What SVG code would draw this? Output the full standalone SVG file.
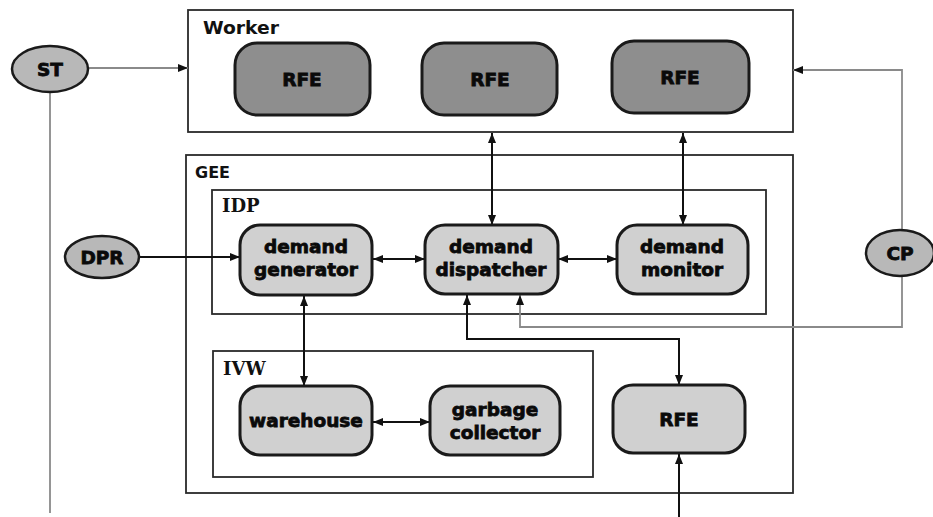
<svg xmlns="http://www.w3.org/2000/svg" width="933" height="517" viewBox="0 0 933 517">
  <style>
    .frame { fill: #ffffff; stroke: #2a2a2a; stroke-width: 1.8; }
    .frame-label { font-family: "DejaVu Sans", "Liberation Sans", sans-serif; font-weight: bold; font-size: 16px; fill: #111; }
    .sub-label { font-family: "DejaVu Serif", "Liberation Serif", serif; font-weight: bold; font-size: 18px; fill: #111; }
    .node-dark { fill: #8e8e8e; stroke: #1a1a1a; stroke-width: 3; }
    .node-light { fill: #d0d0d0; stroke: #1a1a1a; stroke-width: 3; }
    .oval { fill: #b8b8b8; stroke: #1a1a1a; stroke-width: 2.5; }
    .txt { font-family: "DejaVu Sans", "Liberation Sans", sans-serif; font-weight: bold; font-size: 18.5px; fill: #0a0a0a; text-anchor: middle; stroke: #0a0a0a; stroke-width: 0.8; }
    .link { fill: none; stroke: #111; stroke-width: 2; }
    .link-grey { fill: none; stroke: #8a8a8a; stroke-width: 1.8; }
  </style>
  <defs>
    <marker id="arrow" viewBox="0 0 10 8" refX="10" refY="4" markerWidth="10" markerHeight="8" markerUnits="userSpaceOnUse" orient="auto-start-reverse">
      <path d="M0,0 L10,4 L0,8 Z" fill="#111"/>
    </marker>
  </defs>

  <!-- containers -->
  <g id="worker">
    <rect class="frame" x="188" y="10" width="605" height="122"/>
    <text class="frame-label" x="203" y="34" style="font-size:17px" textLength="76" lengthAdjust="spacingAndGlyphs">Worker</text>
  </g>
  <g id="gee">
    <rect class="frame" x="186" y="155" width="607" height="338"/>
    <text class="frame-label" x="195" y="178">GEE</text>
  </g>
  <g id="idp">
    <rect class="frame" x="212" y="190" width="554" height="124"/>
    <text class="sub-label" x="222" y="212">IDP</text>
  </g>
  <g id="ivw">
    <rect class="frame" x="213" y="351" width="380" height="126"/>
    <text class="sub-label" x="223" y="375">IVW</text>
  </g>

  <!-- connectors -->
  <g id="connectors">
    <!-- ST -->
    <line class="link-grey" x1="88" y1="68" x2="188" y2="68" marker-end="url(#arrow)"/>
    <line class="link-grey" x1="50" y1="91" x2="50" y2="513"/>
    <!-- CP -->
    <polyline class="link-grey" points="902,230 902,70 793,70" marker-end="url(#arrow)"/>
    <polyline class="link-grey" points="902,276 902,327 520,327 520,295" marker-end="url(#arrow)"/>
    <!-- DPR -->
    <line class="link" x1="140" y1="257" x2="240" y2="257" marker-end="url(#arrow)"/>
    <!-- IDP row -->
    <line class="link" x1="373" y1="259" x2="425" y2="259" marker-start="url(#arrow)" marker-end="url(#arrow)"/>
    <line class="link" x1="558" y1="259" x2="617" y2="259" marker-start="url(#arrow)" marker-end="url(#arrow)"/>
    <!-- Worker RFEs to IDP -->
    <line class="link" x1="492" y1="133" x2="492" y2="225" marker-start="url(#arrow)" marker-end="url(#arrow)"/>
    <line class="link" x1="683" y1="133" x2="683" y2="225" marker-start="url(#arrow)" marker-end="url(#arrow)"/>
    <!-- dispatcher to local RFE -->
    <polyline class="link" points="467,295 467,339 679,339 679,385" marker-start="url(#arrow)" marker-end="url(#arrow)"/>
    <!-- generator to warehouse -->
    <line class="link" x1="304" y1="296" x2="304" y2="386" marker-start="url(#arrow)" marker-end="url(#arrow)"/>
    <!-- warehouse to garbage collector -->
    <line class="link" x1="373" y1="422" x2="430" y2="422" marker-start="url(#arrow)" marker-end="url(#arrow)"/>
    <!-- incoming to local RFE -->
    <line class="link" x1="679" y1="517" x2="679" y2="454" marker-end="url(#arrow)"/>
  </g>

  <!-- outside actors -->
  <g id="st">
    <ellipse class="oval" cx="50" cy="69" rx="38" ry="23"/>
    <text class="txt" x="50" y="76">ST</text>
  </g>
  <g id="dpr">
    <ellipse class="oval" cx="102" cy="257" rx="37" ry="21"/>
    <text class="txt" x="102" y="264">DPR</text>
  </g>
  <g id="cp">
    <ellipse class="oval" cx="900" cy="253" rx="34" ry="23"/>
    <text class="txt" x="900" y="260">CP</text>
  </g>

  <!-- Worker RFEs -->
  <g id="rfe-w1">
    <rect class="node-dark" x="235" y="43" width="135" height="72" rx="22"/>
    <text class="txt" x="302" y="86">RFE</text>
  </g>
  <g id="rfe-w2">
    <rect class="node-dark" x="422" y="43" width="135" height="72" rx="22"/>
    <text class="txt" x="490" y="86">RFE</text>
  </g>
  <g id="rfe-w3">
    <rect class="node-dark" x="612" y="41" width="137" height="72" rx="22"/>
    <text class="txt" x="680" y="84">RFE</text>
  </g>

  <!-- IDP nodes -->
  <g id="demand-generator">
    <rect class="node-light" x="240" y="225" width="132" height="70" rx="20"/>
    <text class="txt" x="306" y="253">demand</text>
    <text class="txt" x="306" y="276">generator</text>
  </g>
  <g id="demand-dispatcher">
    <rect class="node-light" x="425" y="225" width="133" height="69" rx="20"/>
    <text class="txt" x="491" y="253">demand</text>
    <text class="txt" x="491" y="276">dispatcher</text>
  </g>
  <g id="demand-monitor">
    <rect class="node-light" x="617" y="225" width="131" height="69" rx="20"/>
    <text class="txt" x="682" y="253">demand</text>
    <text class="txt" x="682" y="276">monitor</text>
  </g>

  <!-- IVW nodes -->
  <g id="warehouse">
    <rect class="node-light" x="240" y="386" width="132" height="69" rx="20"/>
    <text class="txt" x="306" y="427">warehouse</text>
  </g>
  <g id="garbage-collector">
    <rect class="node-light" x="430" y="386" width="130" height="69" rx="20"/>
    <text class="txt" x="495" y="416">garbage</text>
    <text class="txt" x="495" y="439">collector</text>
  </g>

  <!-- local RFE -->
  <g id="rfe-local">
    <rect class="node-light" x="613" y="385" width="132" height="68" rx="20"/>
    <text class="txt" x="679" y="426">RFE</text>
  </g>
</svg>
